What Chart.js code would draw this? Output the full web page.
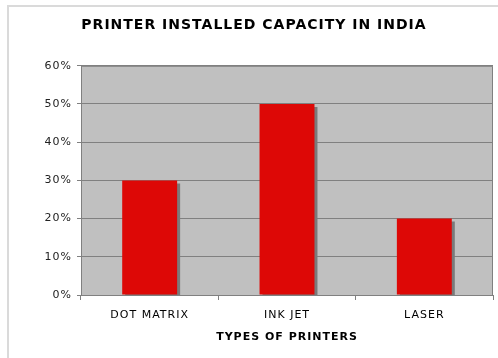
<!DOCTYPE html>
<html lang="en">
<head>
    <meta charset="UTF-8">
    <title>Printer installed capacity in India</title>
    <style>
        body {
            margin: 0;
            background-color: #ffffff;
        }
        .chart-box {
            position: relative;
            width: 498px;
            height: 358px;
        }
    </style>
</head>
<body>
<div class="chart-box">
    <canvas id="chart1" width="498" height="358"></canvas>
</div>

<script src="https://cdn.jsdelivr.net/npm/chart.js"></script>
<script>
    const printerTypes = ['DOT MATRIX', 'INK JET', 'LASER'];
    const capacityShare = [30, 50, 20];
    const yTicks = [0, 10, 20, 30, 40, 50, 60];

    const gridGray = '#808080';
    const fontFamily = "'DejaVu Sans', Verdana, sans-serif";

    // the original uses Verdana, which is wider than DejaVu Sans; a little letter spacing makes up for it
    const spacingPlugin = {
        id: 'spacing',
        beforeUpdate(chart) {
            chart.ctx.letterSpacing = '1px';
        },
        beforeDraw(chart) {
            chart.ctx.letterSpacing = '1px';
        }
    };

    // grey plot background, outer frame and the top/right edges of the plot
    const framePlugin = {
        id: 'frame',
        beforeDraw(chart) {
            const ctx = chart.ctx;
            const a = chart.chartArea;
            ctx.save();
            ctx.strokeStyle = '#dadada';
            ctx.lineWidth = 2;
            ctx.beginPath();
            ctx.moveTo(8, 358);
            ctx.lineTo(8, 6);
            ctx.lineTo(498, 6);
            ctx.stroke();
            ctx.fillStyle = '#c0c0c0';
            ctx.fillRect(a.left, a.top, a.right - a.left, a.bottom - a.top);
            ctx.restore();
        },
        afterDraw(chart) {
            const ctx = chart.ctx;
            const a = chart.chartArea;
            ctx.save();
            ctx.strokeStyle = gridGray;
            ctx.lineWidth = 1;
            ctx.beginPath();
            ctx.moveTo(a.left, a.top + 0.5);
            ctx.lineTo(a.right - 0.5, a.top + 0.5);
            ctx.lineTo(a.right - 0.5, a.bottom);
            ctx.stroke();
            ctx.restore();
        }
    };

    // dark drop shadow to the lower right of each bar
    const shadowPlugin = {
        id: 'barShadow',
        beforeDatasetsDraw(chart) {
            const ctx = chart.ctx;
            ctx.save();
            ctx.shadowColor = '#7a7a7a';
            ctx.shadowOffsetX = 3;
            ctx.shadowOffsetY = 3;
            ctx.shadowBlur = 0;
        },
        afterDatasetsDraw(chart) {
            chart.ctx.restore();
        }
    };

    new Chart(document.getElementById('chart1'), {
        type: 'bar',
        data: {
            labels: printerTypes,
            datasets: [{
                data: capacityShare,
                backgroundColor: '#dd0806',
                borderWidth: 0,
                barPercentage: 0.4,
                categoryPercentage: 1
            }]
        },
        options: {
            responsive: false,
            animation: false,
            layout: {
                padding: { left: 15, right: 5, top: 0, bottom: 0 }
            },
            plugins: {
                legend: { display: false },
                tooltip: { enabled: false },
                title: {
                    display: true,
                    text: 'PRINTER INSTALLED CAPACITY IN INDIA',
                    color: '#000000',
                    font: { family: fontFamily, size: 14, weight: 'bold', lineHeight: 1.2 },
                    padding: { top: 17, bottom: 32 }
                }
            },
            scales: {
                x: {
                    grid: {
                        offset: true,
                        drawOnChartArea: false,
                        drawTicks: true,
                        tickLength: 5,
                        color: gridGray
                    },
                    border: { display: true, color: gridGray },
                    ticks: {
                        color: '#000000',
                        padding: 9,
                        maxRotation: 0,
                        font: { family: fontFamily, size: 11 }
                    },
                    title: {
                        display: true,
                        text: 'TYPES OF PRINTERS',
                        color: '#000000',
                        font: { family: fontFamily, size: 11, weight: 'bold', lineHeight: 1.2 },
                        padding: { top: 0, bottom: 14 }
                    },
                    afterFit(scale) {
                        scale.height = 63;
                    }
                },
                y: {
                    min: yTicks[0],
                    max: yTicks[yTicks.length - 1],
                    afterBuildTicks(scale) {
                        scale.ticks = yTicks.map(v => ({ value: v }));
                    },
                    grid: {
                        color: gridGray,
                        lineWidth: 1,
                        drawTicks: true,
                        tickLength: 4
                    },
                    border: { display: true, color: gridGray },
                    ticks: {
                        color: '#222222',
                        padding: 5,
                        font: { family: fontFamily, size: 11 },
                        callback: v => v + '%'
                    },
                    afterFit(scale) {
                        scale.width = 66;
                    }
                }
            }
        },
        plugins: [spacingPlugin, framePlugin, shadowPlugin]
    });
</script>
</body>
</html>
